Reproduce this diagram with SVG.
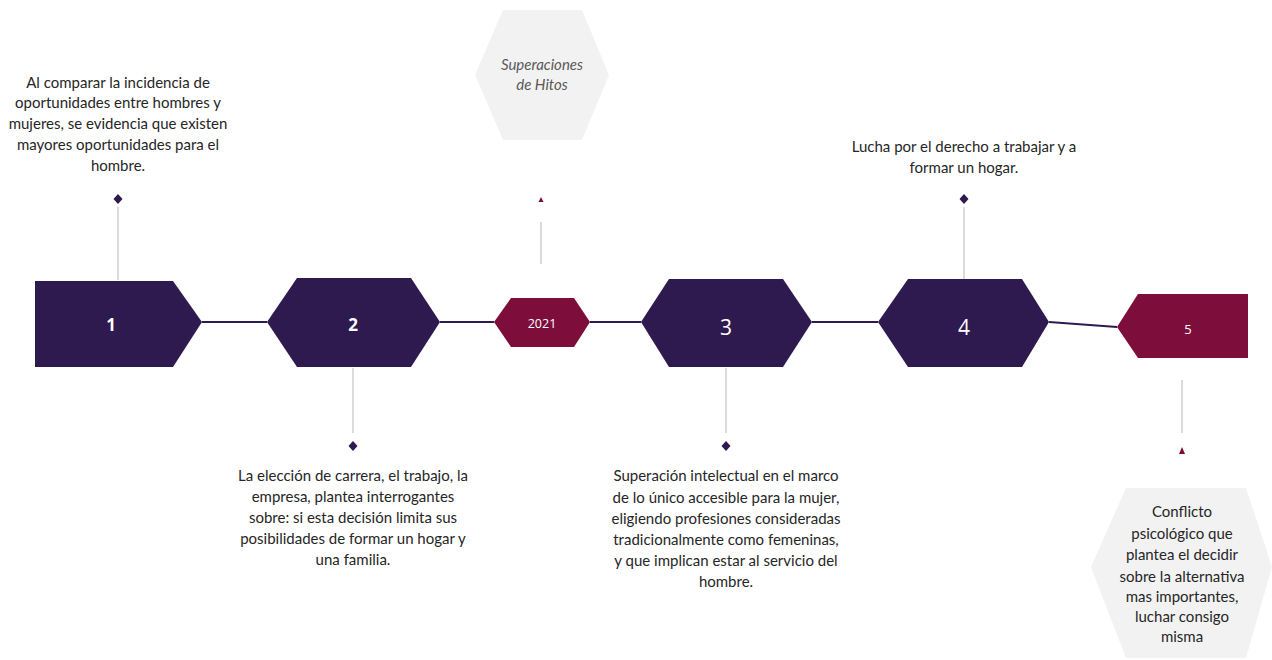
<svg xmlns="http://www.w3.org/2000/svg" width="1272" height="660" viewBox="0 0 1272 660">
  <style>
    .node { fill: #2e1a4f; }
    .accent { fill: #7d0d3b; }
    .soft { fill: #f2f2f2; }
    .stem { stroke: #c8c8c8; stroke-width: 1.3; fill: none; }
    .link { stroke: #2e1a4f; stroke-width: 2; fill: none; }
    .dot { fill: #2e1a4f; }
    .tri { fill: #7d0d3b; }
    .body { font-family: Lato, "Open Sans", sans-serif; font-size: 15px; fill: #262626; text-anchor: middle; }
    .num { font-family: "Open Sans", Lato, sans-serif; fill: #ffffff; text-anchor: middle; }
  </style>
  <rect width="1272" height="660" fill="#ffffff"/>

  <!-- timeline connectors -->
  <g id="connectors">
    <line class="link" x1="202" y1="322" x2="267" y2="322"/>
    <line class="link" x1="440" y1="322" x2="494" y2="322"/>
    <line class="link" x1="590" y1="322" x2="641" y2="322"/>
    <line class="link" x1="812" y1="322" x2="878" y2="322"/>
    <line class="link" x1="1049" y1="322" x2="1117" y2="327"/>
    <line class="stem" x1="118" y1="207" x2="118" y2="280"/>
    <line class="stem" x1="353" y1="368" x2="353" y2="433"/>
    <line class="stem" x1="541" y1="222" x2="541" y2="264"/>
    <line class="stem" x1="726" y1="368" x2="726" y2="433"/>
    <line class="stem" x1="964" y1="207" x2="964" y2="279"/>
    <line class="stem" x1="1182" y1="380" x2="1182" y2="433"/>
    <path class="dot" d="M118 194 L122.5 199 L118 204 L113.5 199 Z"/>
    <path class="dot" d="M353 441 L357.5 446 L353 451 L348.5 446 Z"/>
    <path class="dot" d="M726 441 L730.5 446 L726 451 L721.5 446 Z"/>
    <path class="dot" d="M964 194 L968.5 199 L964 204 L959.5 199 Z"/>
    <path class="tri" d="M541 197 L543.5 202 L538.5 202 Z"/>
    <path class="tri" d="M1182 447 L1185 454 L1179 454 Z"/>
  </g>

  <g id="hitos">
    <path class="soft" d="M475 75 L503 10 L582 10 L609 75 L582 140 L503 140 Z"/>
    <text x="542" y="70" font-family="Lato, 'Open Sans', sans-serif" font-size="15" font-style="italic" fill="#595959" text-anchor="middle">Superaciones</text>
    <text x="542" y="90" font-family="Lato, 'Open Sans', sans-serif" font-size="15" font-style="italic" fill="#595959" text-anchor="middle">de Hitos</text>
  </g>

  <g id="step1">
    <path class="node" d="M35 281 L173 281 L202 322 L173 367 L35 367 Z"/>
    <text class="num" x="111" y="331" font-size="17" font-weight="bold">1</text>
    <text class="body" x="118"><tspan x="118" y="88">Al comparar la incidencia de</tspan><tspan x="118" y="108">oportunidades entre hombres y</tspan><tspan x="118" y="129">mujeres, se evidencia que existen</tspan><tspan x="118" y="150">mayores oportunidades para el</tspan><tspan x="118" y="171">hombre.</tspan></text>
  </g>

  <g id="step2">
    <path class="node" d="M267 322 L297 278 L411 278 L440 322 L411 367 L297 367 Z"/>
    <text class="num" x="353" y="331" font-size="17" font-weight="bold">2</text>
    <text class="body" x="353"><tspan x="353" y="481">La elección de carrera, el trabajo, la</tspan><tspan x="353" y="502">empresa, plantea interrogantes</tspan><tspan x="353" y="523">sobre: si esta decisión limita sus</tspan><tspan x="353" y="544">posibilidades de formar un hogar y</tspan><tspan x="353" y="565">una familia.</tspan></text>
  </g>

  <g id="year2021">
    <path class="accent" d="M494 322 L511 298 L574 298 L590 322 L574 347 L511 347 Z"/>
    <text class="num" x="542" y="328" font-size="12.5">2021</text>
  </g>

  <g id="step3">
    <path class="node" d="M641 322 L669 279 L783 279 L812 322 L783 367 L669 367 Z"/>
    <text class="num" x="726" y="335" font-size="21">3</text>
    <text class="body" x="726"><tspan x="726" y="481">Superación intelectual en el marco</tspan><tspan x="726" y="503">de lo único accesible para la mujer,</tspan><tspan x="726" y="524">eligiendo profesiones consideradas</tspan><tspan x="726" y="545">tradicionalmente como femeninas,</tspan><tspan x="726" y="566">y que implican estar al servicio del</tspan><tspan x="726" y="587">hombre.</tspan></text>
  </g>

  <g id="step4">
    <path class="node" d="M878 322 L908 279 L1022 279 L1049 322 L1022 367 L908 367 Z"/>
    <text class="num" x="964" y="335" font-size="21">4</text>
    <text class="body" x="964"><tspan x="964" y="152">Lucha por el derecho a trabajar y a</tspan><tspan x="964" y="173">formar un hogar.</tspan></text>
  </g>

  <g id="step5">
    <path class="accent" d="M1117 327 L1138 294 L1248 294 L1248 358 L1138 358 Z"/>
    <text class="num" x="1188" y="334" font-size="13">5</text>
  </g>

  <g id="conflicto">
    <path class="soft" d="M1091 567 L1126 488 L1246 488 L1272 567 L1246 658 L1126 658 Z"/>
    <text class="body" x="1182"><tspan x="1182" y="517">Conflicto</tspan><tspan x="1182" y="539">psicológico que</tspan><tspan x="1182" y="560">plantea el decidir</tspan><tspan x="1182" y="582">sobre la alternativa</tspan><tspan x="1182" y="602">mas importantes,</tspan><tspan x="1182" y="622">luchar consigo</tspan><tspan x="1182" y="642">misma</tspan></text>
  </g>
</svg>
